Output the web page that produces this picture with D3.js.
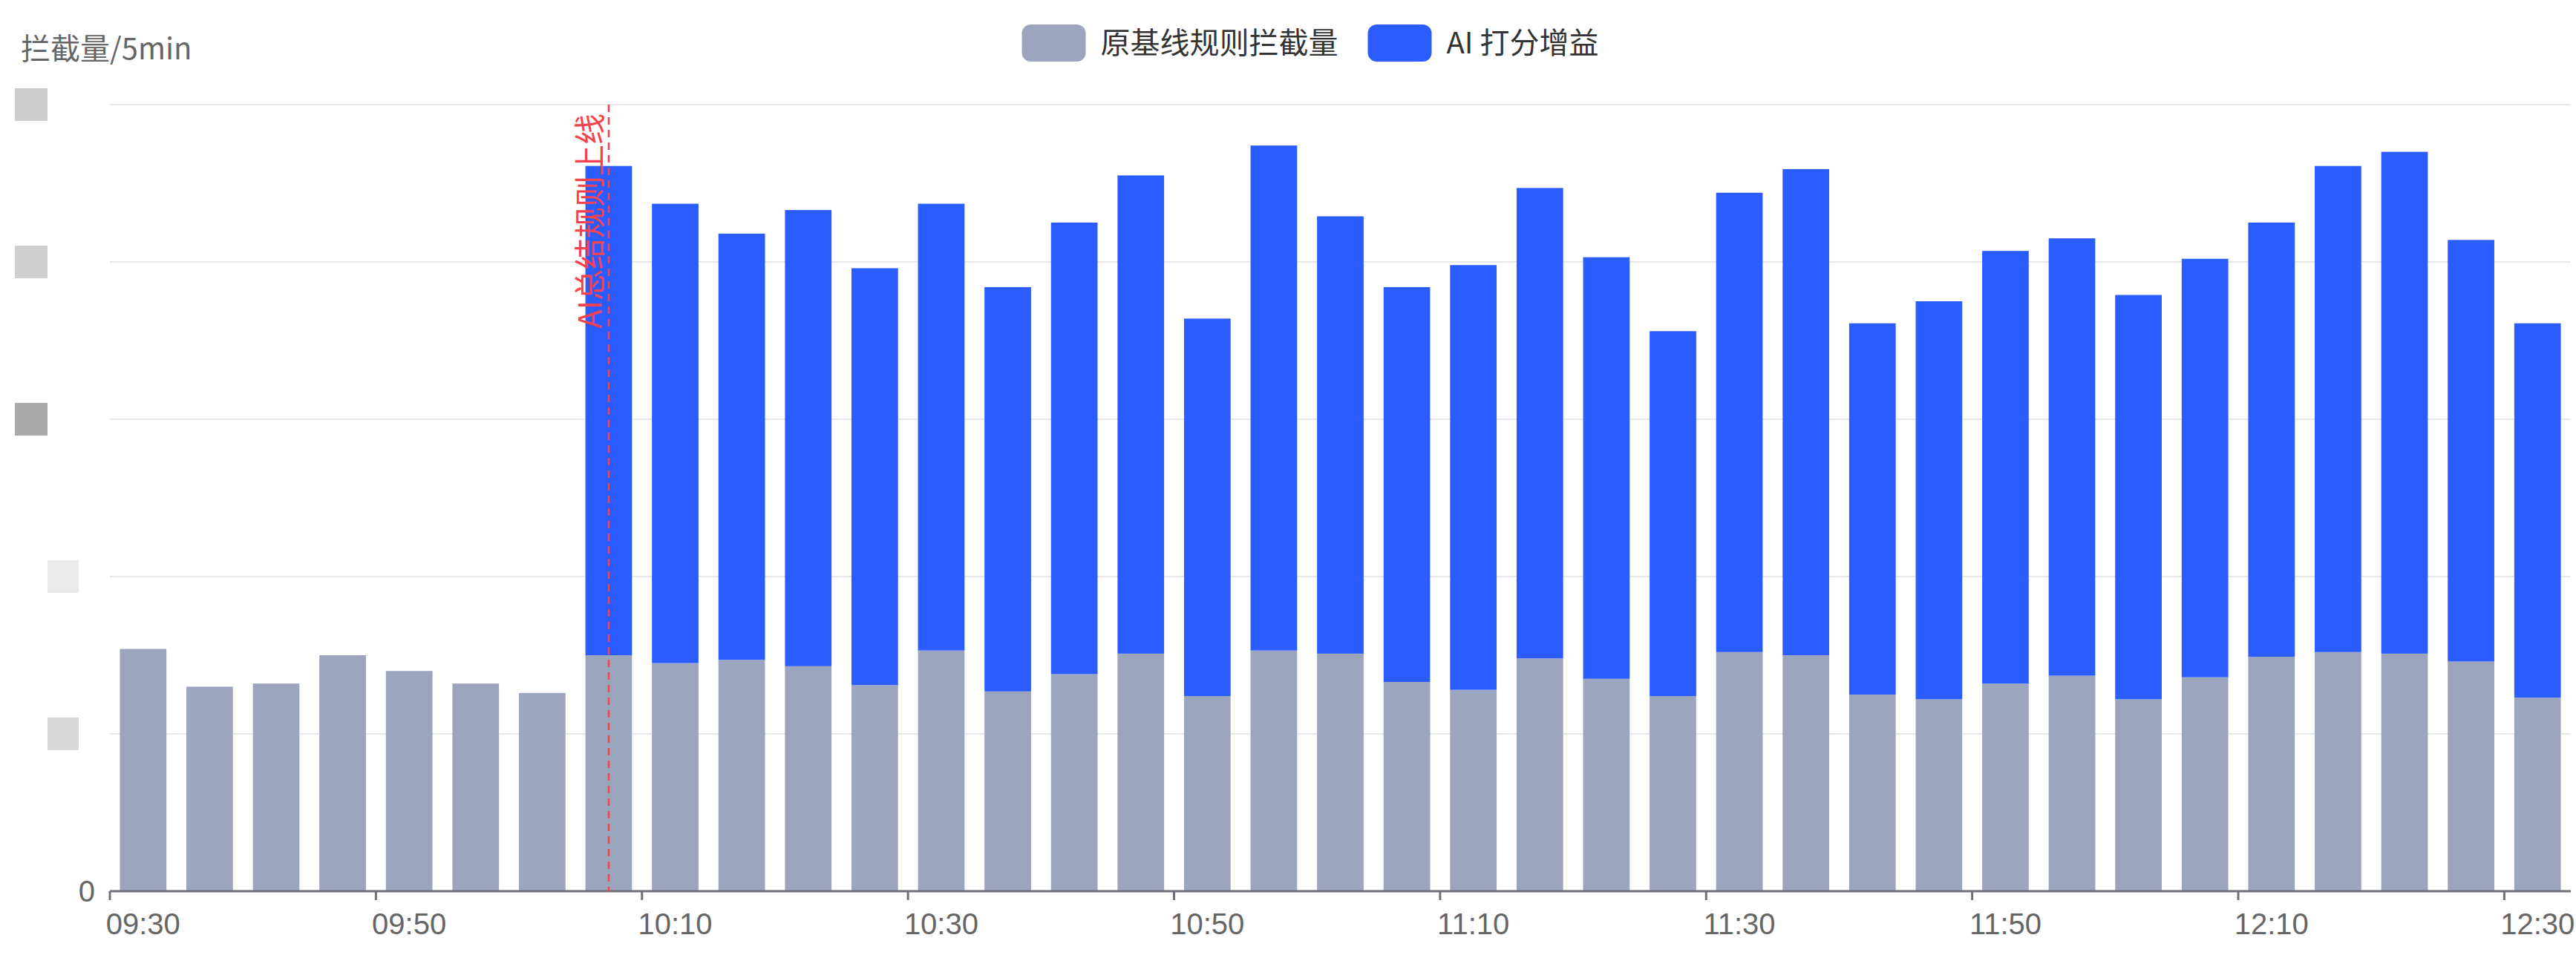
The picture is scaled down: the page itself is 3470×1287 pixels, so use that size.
<!DOCTYPE html>
<html>
<head>
<meta charset="utf-8">
<script src="https://cdn.jsdelivr.net/npm/d3@7"></script>
<style>
  body { margin: 0; background: #fff; }
  svg { display: block; font-family: "Liberation Sans", "Noto Sans CJK SC", sans-serif; }
</style>
</head>
<body>
<svg id="chart" width="3470" height="1287"></svg>
<script>
// ===== DATA =====
const times = [
  '09:30','09:35','09:40','09:45','09:50','09:55','10:00','10:05','10:10','10:15',
  '10:20','10:25','10:30','10:35','10:40','10:45','10:50','10:55','11:00','11:05',
  '11:10','11:15','11:20','11:25','11:30','11:35','11:40','11:45','11:50','11:55',
  '12:00','12:05','12:10','12:15','12:20','12:25','12:30'
];
const baseline = [
  154, 130, 132, 150, 140, 132, 126, 150, 145, 147,
  143, 131, 153, 127, 138, 151, 124, 153, 151, 133,
  128, 148, 135, 124, 152, 150, 125, 122, 132, 137,
  122, 136, 149, 152, 151, 146, 123
];
const aiGain = [
  0, 0, 0, 0, 0, 0, 0, 311, 292, 271,
  290, 265, 284, 257, 287, 304, 240, 321, 278, 251,
  270, 299, 268, 232, 292, 309, 236, 253, 275, 278,
  257, 266, 276, 309, 319, 268, 238
];
const xTickLabels = ['09:30','09:50','10:10','10:30','10:50','11:10','11:30','11:50','12:10','12:30'];
const yTicks = [0, 100, 200, 300, 400, 500];
const launchTime = '10:05';
const seriesNames = ['原基线规则拦截量', 'AI 打分增益'];
const colors = ['#9ba5bd', '#2b5cff'];

// ===== CHART =====
const W = 3470, H = 1287;
const margin = { top: 141, right: 7, bottom: 86, left: 148 };
const svg = d3.select('#chart');

const x = d3.scaleBand().domain(times).range([margin.left, W - margin.right]).paddingInner(0.3).paddingOuter(0.15);
const y = d3.scaleLinear().domain([0, 500]).range([H - margin.bottom, margin.top]);

// grid lines
svg.append('g').selectAll('line')
  .data(yTicks.slice(1))
  .enter().append('line')
  .attr('x1', margin.left).attr('x2', W - margin.right)
  .attr('y1', d => y(d)).attr('y2', d => y(d))
  .attr('stroke', '#e6e7ea').attr('stroke-width', 2);

// blurred y labels (obscured in the original)
const blockShades = ['#d8d8d8', '#eaeaea', '#aaaaaa', '#cfcfcf', '#cccccc'];
svg.append('g').selectAll('rect')
  .data(yTicks.slice(1))
  .enter().append('rect')
  .attr('x', (d, i) => i < 2 ? 64 : 20)
  .attr('y', d => y(d) - 22)
  .attr('width', (d, i) => i < 2 ? 42 : 44)
  .attr('height', 44)
  .attr('fill', (d, i) => blockShades[i]);

svg.append('text')
  .attr('x', 128).attr('y', y(0) + 14)
  .attr('text-anchor', 'end')
  .attr('font-size', 40).attr('fill', '#666')
  .text('0');

// stacked bars
const rows = times.map((t, i) => ({ t, base: baseline[i], gain: aiGain[i] }));
const stack = d3.stack().keys(['base', 'gain'])(rows);

svg.append('g').selectAll('g')
  .data(stack)
  .enter().append('g')
  .attr('fill', (d, i) => colors[i])
  .selectAll('rect')
  .data(d => d.filter(s => s[1] > s[0]))
  .enter().append('rect')
  .attr('x', d => x(d.data.t))
  .attr('y', d => y(d[1]))
  .attr('width', x.bandwidth())
  .attr('height', d => y(d[0]) - y(d[1]));

// x axis
const gap = (x.step() - x.bandwidth()) / 2;
const xAxisG = svg.append('g').attr('transform', `translate(0,${y(0)})`);
xAxisG.append('line')
  .attr('x1', margin.left).attr('x2', W - margin.right)
  .attr('stroke', '#6e7079').attr('stroke-width', 3);
xAxisG.selectAll('.tick')
  .data(xTickLabels)
  .enter().append('line')
  .attr('x1', d => x(d) - gap)
  .attr('x2', d => x(d) - gap)
  .attr('y1', 0).attr('y2', 12)
  .attr('stroke', '#6e7079').attr('stroke-width', 3);
xAxisG.selectAll('text')
  .data(xTickLabels)
  .enter().append('text')
  .attr('x', d => x(d) + x.bandwidth() / 2)
  .attr('y', 58)
  .attr('text-anchor', 'middle')
  .attr('font-size', 40).attr('fill', '#666')
  .text(d => d);

// launch marker
const lx = x(launchTime) + x.bandwidth() / 2;
svg.append('line')
  .attr('x1', lx).attr('x2', lx)
  .attr('y1', margin.top).attr('y2', y(0))
  .attr('stroke', '#f5424e').attr('stroke-width', 2.5)
  .attr('stroke-dasharray', '10,7');
svg.append('text')
  .attr('transform', `translate(${lx - 10},${margin.top + 12}) rotate(-90)`)
  .attr('text-anchor', 'end')
  .attr('font-family', '"Noto Sans CJK SC", sans-serif')
  .attr('font-size', 42).attr('fill', '#f5424e')
  .text('AI总结规则上线');

// y title
svg.append('text')
  .attr('x', 28).attr('y', 80)
  .attr('font-family', '"Noto Sans CJK SC", sans-serif')
  .attr('font-size', 40).attr('fill', '#666')
  .text('拦截量/5min');

// legend
const legend = svg.append('g').attr('font-family', '"Noto Sans CJK SC", sans-serif');
const items = legend.selectAll('g').data(seriesNames).enter().append('g');
items.append('rect')
  .attr('width', 86).attr('height', 50).attr('rx', 12)
  .attr('y', 33)
  .attr('fill', (d, i) => colors[i]);
items.append('text')
  .attr('x', 106).attr('y', 72)
  .attr('font-size', 40).attr('fill', '#333')
  .text(d => d);
let lxPos = 0;
items.each(function () {
  d3.select(this).attr('transform', `translate(${lxPos},0)`);
  lxPos += this.getBBox().width + 40;
});
const legendW = lxPos - 40;
legend.attr('transform', `translate(${(W - legendW) / 2 + 30},0)`);
</script>
</body>
</html>
